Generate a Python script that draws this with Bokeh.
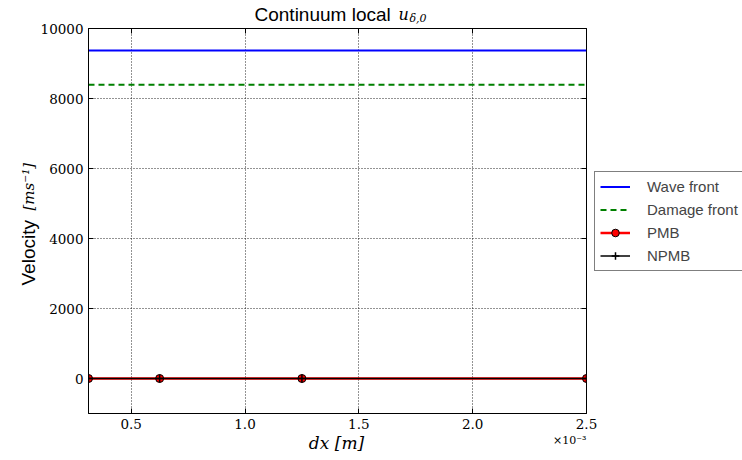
import math
from bokeh.plotting import figure
from bokeh.models import (Range1d, LinearAxis, FixedTicker, CustomJSTickFormatter,
                          Label, Legend, LegendItem, Grid)
from bokeh.embed import file_html
from bokeh.resources import INLINE

# ---- data ----
dx = [0.0003125, 0.000625, 0.00125, 0.0025]
wave_front = [9370, 9370, 9370, 9370]
damage_front = [8390, 8390, 8390, 8390]
pmb = [0, 0, 0, 0]
npmb = [0, 0, 0, 0]
x_ticks = [0.0005, 0.001, 0.0015, 0.002, 0.0025]
y_ticks = [0, 2000, 4000, 6000, 8000, 10000]
series_names = ["Wave front", "Damage front", "PMB", "NPMB"]

W, H = 742, 460
FL, FR, FT, FB = 88, 586, 28, 413
X0, X1, Y0, Y1 = 0.0003125, 0.0025, -1000, 10000

p = figure(width=W, height=H, frame_width=FR - FL, frame_height=FB - FT,
           output_backend="svg", toolbar_location=None,
           x_range=Range1d(X0, X1), y_range=Range1d(Y0, Y1),
           min_border_left=FL, min_border_right=W - FR,
           min_border_top=FT, min_border_bottom=H - FB,
           x_axis_type=None, y_axis_type=None)
p.background_fill_color = "white"
p.border_fill_color = "white"
p.outline_line_color = "black"
p.outline_line_width = 1

SERIF = "DejaVu Serif"
SANS = "Liberation Sans"
fmt_x = CustomJSTickFormatter(code="return (tick*1e3).toFixed(1);")

def mk_axis(kind, show):
    ax = LinearAxis()
    ax.ticker = FixedTicker(ticks=x_ticks if kind == "x" else y_ticks)
    if kind == "x":
        ax.formatter = fmt_x
    ax.major_tick_in = 5
    ax.major_tick_out = 0
    ax.minor_tick_line_color = None
    ax.major_tick_line_color = "black"
    ax.axis_line_color = "black"
    ax.major_label_text_font = SERIF
    ax.major_label_text_font_size = "13.5px"
    ax.major_label_text_color = "black"
    ax.major_label_standoff = 5
    if not show:
        ax.major_label_text_font_size = "0px"
        ax.major_label_text_color = None
        ax.major_label_standoff = 0
    return ax

p.add_layout(mk_axis("x", True), "below")
p.add_layout(mk_axis("y", True), "left")
p.add_layout(mk_axis("x", False), "above")

xg = Grid(dimension=0, ticker=FixedTicker(ticks=x_ticks))
yg = Grid(dimension=1, ticker=FixedTicker(ticks=y_ticks))
for g in (xg, yg):
    g.grid_line_color = "black"
    g.grid_line_dash = "1 2"
    g.grid_line_width = 1
    g.grid_line_alpha = 0.85
p.add_layout(xg)
p.add_layout(yg)

r_wave = p.line(dx, wave_front, line_color="#0000ff", line_width=2)
r_dmg = p.line(dx, damage_front, line_color="#008000", line_width=2, line_dash="6 4")
r_pmb_l = p.line(dx, pmb, line_color="#ff0000", line_width=2.5)
r_pmb_m = p.scatter(dx, pmb, marker="circle", size=8, fill_color="#ff0000",
                    line_color="black", line_width=1)
r_npmb_l = p.line(dx, npmb, line_color="black", line_width=1.5)
r_npmb_m = p.scatter(dx, npmb, marker="cross", size=8, line_color="black", line_width=1.5)

legend = Legend(items=[
    LegendItem(label=series_names[0], renderers=[r_wave]),
    LegendItem(label=series_names[1], renderers=[r_dmg]),
    LegendItem(label=series_names[2], renderers=[r_pmb_l, r_pmb_m]),
    LegendItem(label=series_names[3], renderers=[r_npmb_l, r_npmb_m]),
], location="left")
legend.border_line_color = "black"
legend.border_line_width = 1
legend.background_fill_color = "white"
legend.background_fill_alpha = 1
legend.label_text_font = SANS
legend.label_text_font_size = "15px"
legend.glyph_width = 30
legend.glyph_height = 19
legend.label_height = 19
legend.spacing = 4
legend.padding = 5
legend.margin = 8
legend.label_standoff = 17
p.add_layout(legend, "right")

# right-hand ticks, pinned to the frame edge
r_ax = mk_axis("y", False)
r_ax.fixed_location = X1
p.add_layout(r_ax, "right")

def lab(text, x, y_top, font, size, style="normal", align="left", angle=0.0):
    p.add_layout(Label(x=x, y=y_top, x_units="canvas", y_units="canvas",
                       text=text, text_font=font, text_font_size=size,
                       text_font_style=style, text_align=align,
                       text_baseline="alphabetic", angle=angle,
                       text_color="black"), "right")

# title
lab("Continuum local", 254, 14, SANS, "19px")
lab("u", 398, 14, SERIF, "16px", "italic")
lab("δ,0", 409, 18, SERIF, "11px", "italic")
# y label
lab("Velocity", 28, 285, SANS, "19px", angle=math.pi / 2)
lab("[ms⁻¹]", 28, 210, SERIF, "15px", "italic", angle=math.pi / 2)
# x label
lab("dx [m]", 336, 442, SERIF, "17px", "italic", align="center")
lab("×10⁻³", 586, 440, SERIF, "11px", align="right")

open("out.html", "w").write(file_html(p, INLINE))
